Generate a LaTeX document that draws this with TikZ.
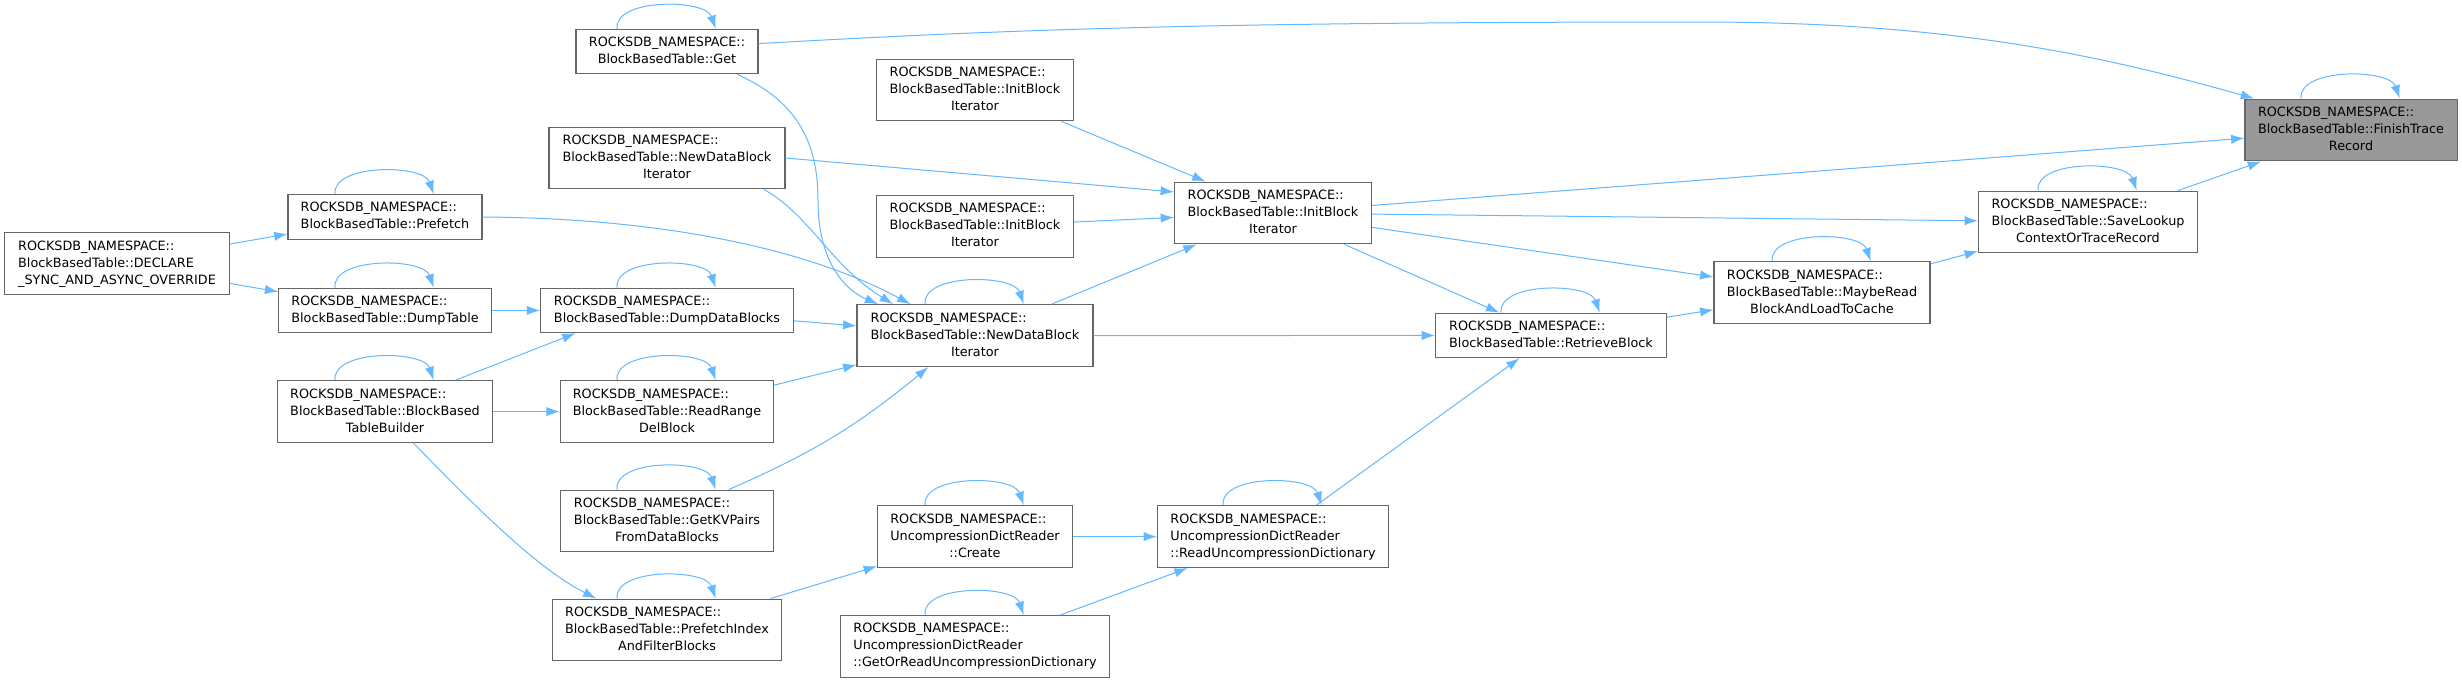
\documentclass[tikz,border=0pt]{standalone}
\usepackage{fontspec}
\setmainfont{DejaVu Sans}
\usetikzlibrary{arrows.meta}
\definecolor{callblue}{HTML}{63B8FF}
\definecolor{framegray}{HTML}{666666}
\definecolor{focusgray}{HTML}{999999}
\newcommand{\twoline}[2]{\begin{tabular}{@{}l@{}}#1\\\multicolumn{1}{@{}c@{}}{#2}\end{tabular}}
\newcommand{\threeline}[3]{\begin{tabular}{@{}l@{}}#1\\#2\\\multicolumn{1}{@{}c@{}}{#3}\end{tabular}}

\begin{document}
\begin{tikzpicture}[x=0.75pt,y=-0.75pt,>={Latex[length=10pt,width=7pt]},
        fn/.style={draw=framegray,fill=white,line width=0.8pt,inner sep=1pt,minimum width=#1*0.75pt,font=\fontsize{9.6}{12.75}\selectfont},
        fntwo/.style={fn=#1,minimum height=33.4pt},
        fnthree/.style={fn=#1,minimum height=46.4pt},
        call/.style={->,draw=callblue,line width=0.75pt},
        selfcall/.style={to path={([xshift=-37.5pt]\tikztostart.north) .. controls +(-3,-31) and +(-10,-30) .. ([xshift=36.5pt]\tikztotarget.north)}}]
        \useasboundingbox[fill=white] (0,0) rectangle (2462,683);
        \node[fnthree=212,fill=focusgray] (finish) at (2351,130) {\threeline{ROCKSDB\_NAMESPACE::}{BlockBasedTable::FinishTrace}{Record}};
        \node[fnthree=219] (savectx) at (2088,222) {\threeline{ROCKSDB\_NAMESPACE::}{BlockBasedTable::SaveLookup}{ContextOrTraceRecord}};
        \node[fnthree=216] (mayberead) at (1822,292.7) {\threeline{ROCKSDB\_NAMESPACE::}{BlockBasedTable::MaybeRead}{BlockAndLoadToCache}};
        \node[fntwo=231] (retrieve) at (1551,335.4) {\twoline{ROCKSDB\_NAMESPACE::}{BlockBasedTable::RetrieveBlock}};
        \node[fnthree=197] (inititer) at (1273,213) {\threeline{ROCKSDB\_NAMESPACE::}{BlockBasedTable::InitBlock}{Iterator}};
        \node[fnthree=231] (readdict) at (1273,536.6) {\threeline{ROCKSDB\_NAMESPACE::}{UncompressionDictReader}{::ReadUncompressionDictionary}};
        \node[fnthree=197] (initalt1) at (975,90) {\threeline{ROCKSDB\_NAMESPACE::}{BlockBasedTable::InitBlock}{Iterator}};
        \node[fnthree=197] (initalt2) at (975,226.5) {\threeline{ROCKSDB\_NAMESPACE::}{BlockBasedTable::InitBlock}{Iterator}};
        \node[fnthree=236] (newiter) at (975,335.6) {\threeline{ROCKSDB\_NAMESPACE::}{BlockBasedTable::NewDataBlock}{Iterator}};
        \node[fnthree=195] (dictcreate) at (975,536.6) {\threeline{ROCKSDB\_NAMESPACE::}{UncompressionDictReader}{::Create}};
        \node[fnthree=269] (getdict) at (975,646.4) {\threeline{ROCKSDB\_NAMESPACE::}{UncompressionDictReader}{::GetOrReadUncompressionDictionary}};
        \node[fntwo=182] (get) at (667,51.6) {\twoline{ROCKSDB\_NAMESPACE::}{BlockBasedTable::Get}};
        \node[fnthree=236] (newiterup) at (667,158) {\threeline{ROCKSDB\_NAMESPACE::}{BlockBasedTable::NewDataBlock}{Iterator}};
        \node[fntwo=252.5] (dumpblocks) at (667,310.4) {\twoline{ROCKSDB\_NAMESPACE::}{BlockBasedTable::DumpDataBlocks}};
        \node[fnthree=213.5] (readrange) at (667,411.6) {\threeline{ROCKSDB\_NAMESPACE::}{BlockBasedTable::ReadRange}{DelBlock}};
        \node[fnthree=212.5] (getkv) at (667,521) {\threeline{ROCKSDB\_NAMESPACE::}{BlockBasedTable::GetKVPairs}{FromDataBlocks}};
        \node[fnthree=229.5] (prefidx) at (667,630) {\threeline{ROCKSDB\_NAMESPACE::}{BlockBasedTable::PrefetchIndex}{AndFilterBlocks}};
        \node[fntwo=194] (prefetch) at (385,217) {\twoline{ROCKSDB\_NAMESPACE::}{BlockBasedTable::Prefetch}};
        \node[fntwo=212.5] (dumptable) at (385,310.4) {\twoline{ROCKSDB\_NAMESPACE::}{BlockBasedTable::DumpTable}};
        \node[fnthree=215.5] (builder) at (385,411.6) {\threeline{ROCKSDB\_NAMESPACE::}{BlockBasedTable::BlockBased}{TableBuilder}};
        \node[fnthree=225] (declare) at (117,263.7) {\threeline{ROCKSDB\_NAMESPACE::}{BlockBasedTable::DECLARE}{\_SYNC\_AND\_ASYNC\_OVERRIDE}};
        \draw[call] (get.5) .. controls (1000,30) and (1200,22) .. (1700,22) .. controls (1950,22) and (2100,55) .. (finish.162);
        \draw[call] (inititer) -- (finish);
        \draw[call] (savectx) -- (finish);
        \draw[call] (inititer) -- (savectx);
        \draw[call] (inititer) -- (mayberead);
        \draw[call] (inititer) -- (retrieve);
        \draw[call] (retrieve) -- (mayberead);
        \draw[call] (mayberead) -- (savectx);
        \draw[call] (readdict) -- (retrieve);
        \draw[call] (newiter) -- (inititer);
        \draw[call] (initalt1.-20) -- (inititer.155);
        \draw[call] (newiterup.east) -- (inititer.168);
        \draw[call] (initalt2) -- (inititer);
        \draw[call] (newiter) -- (retrieve);
        \draw[call] (get.-18) .. controls (795,100) and (818,140) .. (818,200) .. controls (818,262) and (845,290) .. (newiter.162);
        \draw[call] (newiterup.-18) .. controls (810,215) and (830,265) .. (newiter.159);
        \draw[call] (prefetch.east) .. controls (650,218) and (800,245) .. (newiter.154);
        \draw[call] (dumpblocks) -- (newiter);
        \draw[call] (readrange) -- (newiter);
        \draw[call] (getkv.27) to[bend right=8] (newiter.214);
        \draw[call] (declare) -- (prefetch);
        \draw[call] (declare) -- (dumptable);
        \draw[call] (dumptable) -- (dumpblocks);
        \draw[call] (builder.24) -- (dumpblocks.194);
        \draw[call] (builder) -- (readrange);
        \draw[call] (builder.-48) .. controls (455,485) and (530,565) .. (prefidx.156);
        \draw[call] (prefidx) -- (dictcreate);
        \draw[call] (dictcreate) -- (readdict);
        \draw[call] (getdict) -- (readdict);
        \draw[call,selfcall] (finish) to (finish);
        \draw[call,selfcall] (savectx) to (savectx);
        \draw[call,selfcall] (mayberead) to (mayberead);
        \draw[call,selfcall] (retrieve) to (retrieve);
        \draw[call,selfcall] (readdict) to (readdict);
        \draw[call,selfcall] (newiter) to (newiter);
        \draw[call,selfcall] (dictcreate) to (dictcreate);
        \draw[call,selfcall] (getdict) to (getdict);
        \draw[call,selfcall] (get) to (get);
        \draw[call,selfcall] (dumpblocks) to (dumpblocks);
        \draw[call,selfcall] (readrange) to (readrange);
        \draw[call,selfcall] (getkv) to (getkv);
        \draw[call,selfcall] (prefidx) to (prefidx);
        \draw[call,selfcall] (prefetch) to (prefetch);
        \draw[call,selfcall] (dumptable) to (dumptable);
        \draw[call,selfcall] (builder) to (builder);
    \end{tikzpicture}
\end{document}
